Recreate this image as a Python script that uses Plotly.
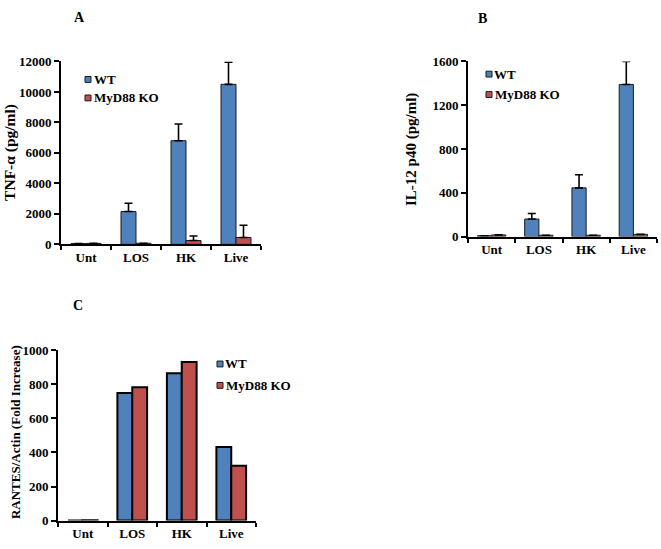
import plotly.graph_objects as go

W, H = 661, 549

categories = ["Unt", "LOS", "HK", "Live"]

# Panel A: TNF-alpha (pg/ml)
tnf_wt = [50, 2150, 6800, 10500]
tnf_wt_err = [0, 550, 1100, 1450]
tnf_ko = [60, 70, 250, 450]
tnf_ko_err = [0, 0, 300, 800]

# Panel B: IL-12 p40 (pg/ml)
il12_wt = [8, 160, 445, 1390]
il12_wt_err = [0, 50, 120, 210]
il12_ko = [15, 12, 12, 20]
il12_ko_err = [0, 0, 0, 0]

# Panel C: RANTES/Actin (fold increase)
rantes_wt = [0, 750, 865, 432]
rantes_ko = [2, 783, 932, 322]

series_names = ["WT", "MyD88 KO"]
BLUE = "#4F81BD"
RED = "#C0504D"
FONT = "Liberation Serif"


def px_x(x):
    return x / W


def px_y(y):
    return 1 - y / H


fig = go.Figure()


def err(arr):
    return dict(type="data", symmetric=False, array=arr, arrayminus=[0] * len(arr),
                color="black", thickness=1.6, width=4)


# Panel A
fig.add_trace(go.Bar(x=categories, y=tnf_wt, name=series_names[0], marker=dict(color=BLUE, line=dict(color="#1a1a1a", width=1)),
                     error_y=err(tnf_wt_err), xaxis="x", yaxis="y", showlegend=False, cliponaxis=False))
fig.add_trace(go.Bar(x=categories, y=tnf_ko, name=series_names[1], marker=dict(color=RED, line=dict(color="#1a1a1a", width=1)),
                     error_y=err(tnf_ko_err), xaxis="x", yaxis="y", showlegend=False, cliponaxis=False))
# Panel B
fig.add_trace(go.Bar(x=categories, y=il12_wt, name=series_names[0], marker=dict(color=BLUE, line=dict(color="#1a1a1a", width=1)),
                     error_y=err(il12_wt_err), xaxis="x2", yaxis="y2", showlegend=False, cliponaxis=False))
fig.add_trace(go.Bar(x=categories, y=il12_ko, name=series_names[1], marker=dict(color=RED, line=dict(color="#1a1a1a", width=1)),
                     error_y=err(il12_ko_err), xaxis="x2", yaxis="y2", showlegend=False, cliponaxis=False))
# Panel C
fig.add_trace(go.Bar(x=categories, y=rantes_wt, name=series_names[0], marker=dict(color=BLUE, line=dict(color="black", width=2)),
                     xaxis="x3", yaxis="y3", showlegend=False, cliponaxis=False))
fig.add_trace(go.Bar(x=categories, y=rantes_ko, name=series_names[1], marker=dict(color=RED, line=dict(color="black", width=2)),
                     xaxis="x3", yaxis="y3", showlegend=False, cliponaxis=False))

tickfont = dict(family=FONT, size=13, color="black", weight="bold")


def xaxis(dom, anchor):
    return dict(domain=dom, anchor=anchor, showline=True, linecolor="black", linewidth=2,
                ticks="outside", ticklen=4, tickwidth=2, tickcolor="black", tickson="boundaries",
                showgrid=False, zeroline=False, tickfont=tickfont, fixedrange=True)


def yaxis(dom, anchor, rng, dtick):
    return dict(domain=dom, anchor=anchor, range=rng, dtick=dtick, tickformat="d", showline=True,
                linecolor="black", linewidth=2, ticks="outside", ticklen=5, tickwidth=2, tickcolor="black",
                showgrid=False, zeroline=False, tickfont=tickfont, fixedrange=True)


fig.update_layout(
    width=W, height=H, margin=dict(l=0, r=0, t=0, b=0),
    paper_bgcolor="white", plot_bgcolor="white",
    barmode="group", bargap=0.4, bargroupgap=0,
    font=dict(family=FONT, color="black"),
    xaxis=xaxis([px_x(61), px_x(261)], "y"),
    yaxis=yaxis([px_y(244), px_y(56)], "x", [0, 12000], 2000),
    xaxis2=xaxis([px_x(468), px_x(657)], "y2"),
    yaxis2=yaxis([px_y(236), px_y(56)], "x2", [0, 1600], 400),
    xaxis3=xaxis([px_x(58), px_x(256)], "y3"),
    yaxis3=yaxis([px_y(528), px_y(353)], "x3", [0, 1000], 200),
)

ann = []
# Panel letters
for txt, x, y in [("A", 79, 11), ("B", 482, 12), ("C", 78, 307)]:
    ann.append(dict(text=f"<b>{txt}</b>", x=px_x(x), y=px_y(y), xref="paper", yref="paper",
                    xanchor="center", yanchor="middle",
                    showarrow=False, font=dict(family=FONT, size=14, color="black")))
# Axis titles
for txt, x, y, s in [("TNF-α (pg/ml)", 10, 150, 15.5), ("IL-12 p40 (pg/ml)", 412, 147, 15),
                     ("RANTES/Actin (Fold Increase)", 15, 437, 13)]:
    ann.append(dict(text=f"<b>{txt}</b>", x=px_x(x), y=px_y(y), xref="paper", yref="paper",
                    xanchor="center", yanchor="middle",
                    showarrow=False, textangle=-90, font=dict(family=FONT, size=s, color="black")))

# Legends (square swatch + label)
shapes = []
legend_pos = [(85, 74.5, 93.5), (486, 69, 90), (217, 367, 389)]
for lx, y1, y2 in legend_pos:
    for name, col, yy in [(series_names[0], BLUE, y1), (series_names[1], RED, y2)]:
        shapes.append(dict(type="rect", xref="paper", yref="paper",
                           x0=px_x(lx), x1=px_x(lx + 6), y0=px_y(yy + 3), y1=px_y(yy - 3),
                           fillcolor=col, line=dict(color="#1a1a1a", width=1)))
        ann.append(dict(text=f"<b>{name}</b>", x=px_x(lx + 6.5), y=px_y(yy), xref="paper", yref="paper",
                        xanchor="left", yanchor="middle", showarrow=False,
                        font=dict(family=FONT, size=13, color="black")))

fig.update_layout(annotations=ann, shapes=shapes)

fig.write_html("out.html", config={"displayModeBar": False},
               post_script="document.body.style.margin='0';document.body.style.overflow='hidden';")
